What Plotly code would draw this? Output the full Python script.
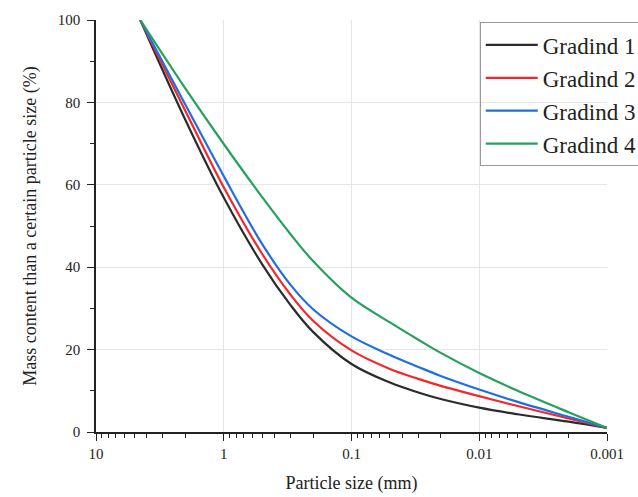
import plotly.graph_objects as go

# Particle size (mm) and mass passing (%) for each grading
size_g1 = [4.5, 2, 1, 0.5, 0.3, 0.2, 0.1, 0.05, 0.03, 0.02, 0.01, 0.005, 0.002, 0.001]
pass_g1 = [100, 75.8, 56.9, 40.7, 30.8, 24.3, 16.5, 12.0, 9.6, 8.0, 5.9, 4.3, 2.5, 1]

size_g2 = [4.5, 2, 1, 0.5, 0.3, 0.2, 0.1, 0.05, 0.03, 0.02, 0.01, 0.005, 0.002, 0.001]
pass_g2 = [100, 78, 59.4, 43.2, 33.3, 27, 19.8, 15.3, 12.9, 11.2, 8.7, 6.3, 3.3, 1]

size_g3 = [4.5, 2, 1, 0.5, 0.3, 0.2, 0.1, 0.05, 0.03, 0.02, 0.01, 0.005, 0.002, 0.001]
pass_g3 = [100, 79.5, 62.1, 45.6, 35.7, 29.8, 23.2, 18.7, 15.8, 13.6, 10.3, 7.3, 3.7, 1]

size_g4 = [4.5, 2, 1, 0.5, 0.3, 0.2, 0.1, 0.05, 0.03, 0.02, 0.01, 0.005, 0.002, 0.001]
pass_g4 = [100, 83.4, 69.9, 57, 48.0, 41.5, 32.6, 26.6, 22.4, 19.2, 14.3, 10.0, 4.8, 1]

names = ["Gradind 1", "Gradind 2", "Gradind 3", "Gradind 4"]
colors = ["#2b2b2b", "#f2282b", "#1f6fe3", "#26a05c"]

x_tickvals = [10, 1, 0.1, 0.01, 0.001]
x_ticktext = ["10", "1", "0.1", "0.01", "0.001"]
y_tickvals = [0, 20, 40, 60, 80, 100]

FONT = "Liberation Serif, Times New Roman, serif"

fig = go.Figure()
for xs, ys, nm, c in zip([size_g1, size_g2, size_g3, size_g4],
                         [pass_g1, pass_g2, pass_g3, pass_g4], names, colors):
    fig.add_trace(go.Scatter(x=xs, y=ys, mode="lines", name=nm,
                             line=dict(color=c, width=2.2, shape="spline", smoothing=1.0)))

fig.update_layout(
    width=638, height=497,
    margin=dict(l=96, r=31, t=20, b=65, autoexpand=False),
    paper_bgcolor="white", plot_bgcolor="white",
    font=dict(family=FONT, color="#222", size=15),
    showlegend=True,
    legend=dict(x=0.751, y=0.994, xanchor="left", yanchor="top",
                bordercolor="#9a9a9a", borderwidth=1,
                bgcolor="rgba(255,255,255,0)",
                font=dict(family=FONT, size=23, color="#222"),
                itemwidth=52, tracegroupgap=0),
)

fig.update_xaxes(
    type="log", range=[1, -3], autorange=False,
    tickvals=x_tickvals, ticktext=x_ticktext,
    ticks="outside", ticklen=7, tickwidth=1.2, tickcolor="#222",
    showline=True, linecolor="#222", linewidth=1.5,
    showgrid=True, gridcolor="#e6e6e6", gridwidth=1,
    zeroline=False, mirror=False,
    minor=dict(ticks="outside", ticklen=4, tickcolor="#222", dtick="D1", showgrid=False),
    title=dict(text="Particle size (mm)", font=dict(size=18, family=FONT, color="#222"), standoff=16),
    tickfont=dict(size=15, family=FONT, color="#222"),
)

fig.update_yaxes(
    range=[0, 100], autorange=False,
    tickvals=y_tickvals,
    ticks="outside", ticklen=7, tickwidth=1.2, tickcolor="#222",
    showline=True, linecolor="#222", linewidth=1.5,
    showgrid=True, gridcolor="#e6e6e6", gridwidth=1,
    zeroline=False, mirror=False,
    minor=dict(ticks="outside", ticklen=4, tickcolor="#222", dtick=10, showgrid=False),
    ticklabelstandoff=4,
    title=dict(text="Mass content than a certain particle size (%)",
               font=dict(size=18, family=FONT, color="#222"), standoff=16),
    tickfont=dict(size=15, family=FONT, color="#222"),
)

fig.write_html("out.html")
